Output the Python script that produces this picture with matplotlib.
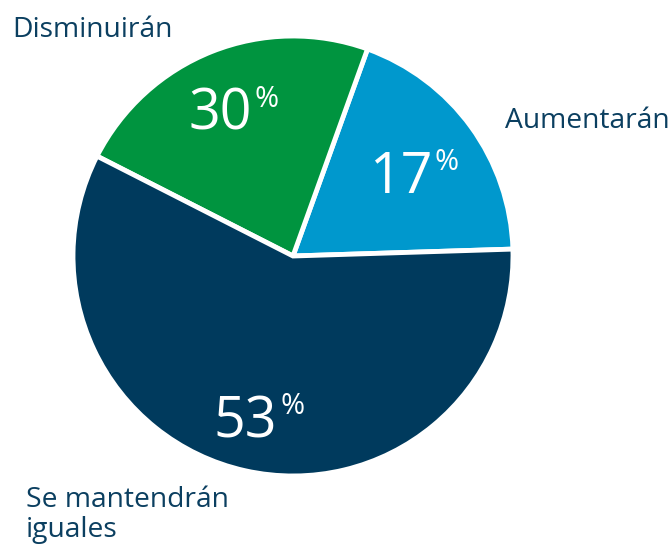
import matplotlib.pyplot as plt

# Categorías y valores impresos
categorias = ["Aumentarán", "Disminuirán", "Se mantendrán\niguales"]
porcentajes = ["17", "30", "53"]
# Tamaño de los sectores tal como aparecen dibujados en el original
sectores = [19, 23, 58]
colores = ["#0098CD", "#00943F", "#003A5D"]

TEXTO = "#0B3F60"
FUENTE = ["Open Sans", "DejaVu Sans"]


def main() -> None:
    fig = plt.figure(figsize=(6.72, 5.45), dpi=100)
    ax = fig.add_axes([0, 0, 1, 1])

    ax.pie(sectores, colors=colores, startangle=1.8, counterclock=True,
           center=(293, 289), radius=220,
           wedgeprops=dict(edgecolor="white", linewidth=3.5))

    # pie() fija sus propios límites: se reponen después
    ax.set_xlim(0, 672)
    ax.set_ylim(0, 545)
    ax.set_aspect("equal")
    ax.axis("off")

    # etiquetas de porcentaje (número + signo %)
    pos_num = [(432, 352), (252, 415), (277, 108)]
    for (x, y), p in zip(pos_num, porcentajes):
        ax.text(x, y, p, color="white", fontsize=40, family=FUENTE,
                ha="right", va="baseline")
        ax.text(x + 3, y + 45, "%", color="white", fontsize=21,
                family=FUENTE, ha="left", va="top")

    # nombres de categoría
    ax.text(505, 417, categorias[0], color=TEXTO, fontsize=20.3,
            family=FUENTE, ha="left", va="baseline")
    ax.text(12, 508, categorias[1], color=TEXTO, fontsize=20.3,
            family=FUENTE, ha="left", va="baseline")
    ax.text(26, 8, categorias[2], color=TEXTO, fontsize=20.3,
            family=FUENTE, ha="left", va="baseline", linespacing=1.1)

    fig.savefig("out.png", dpi=100, facecolor="white")


if __name__ == "__main__":
    main()
